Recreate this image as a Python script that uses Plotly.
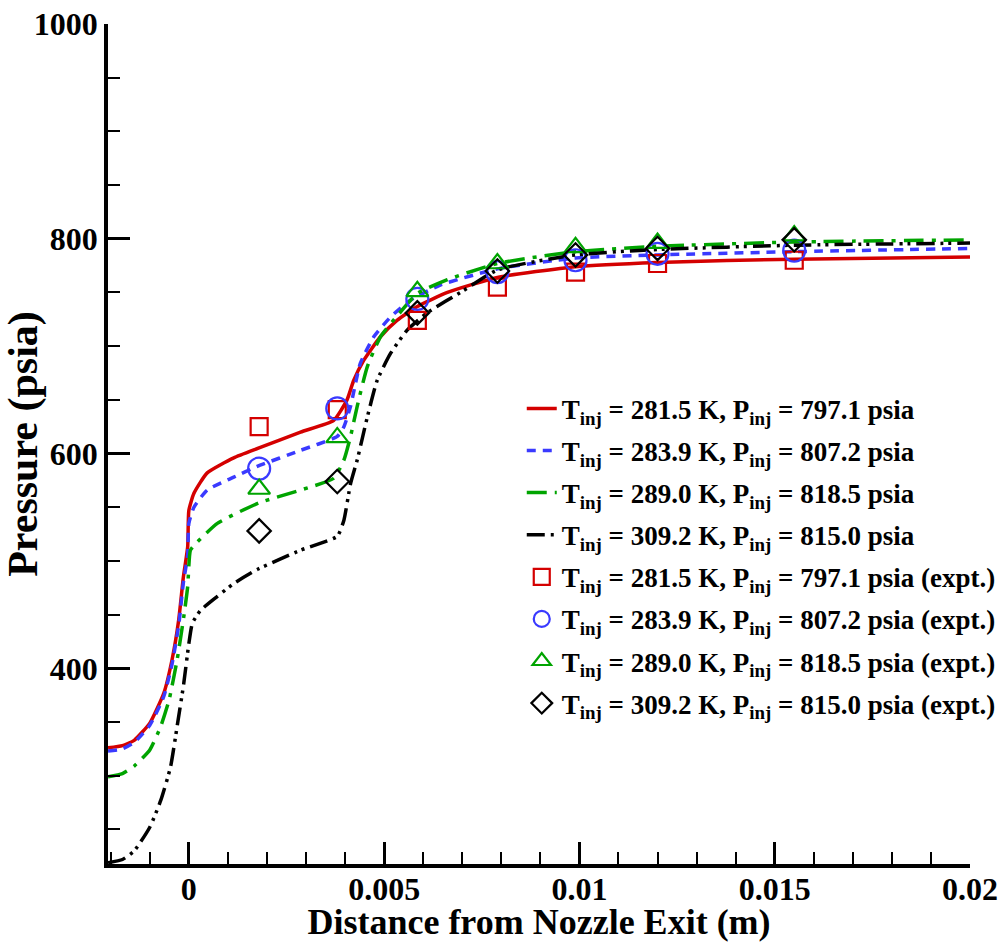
import plotly.graph_objects as go

# ---------------- data ----------------
x_281 = [-0.00207, -0.0017, -0.0014, -0.001, -0.00064, -0.00043, -0.00026, -0.00014, -0.00003, 0.0,
         0.00013, 0.00047, 0.00115, 0.00178, 0.00286, 0.00371, 0.00405, 0.00422, 0.00448,
         0.00491, 0.00533, 0.00585, 0.00662, 0.0079, 0.0099, 0.012, 0.0155, 0.02]
y_281 = [326, 328, 333, 349, 377, 408, 445, 485, 513, 547,
         563, 582, 596, 605, 620, 631, 650, 668, 687,
         709, 724, 737, 750, 764, 774, 778, 781, 783]

x_283 = [-0.00207, -0.0017, -0.0014, -0.001, -0.00064, -0.00043, -0.00026, -0.00014, -0.00003, 0.0,
         0.00013, 0.00047, 0.00115, 0.00175, 0.00286, 0.0038, 0.00397, 0.00414, 0.00439,
         0.00474, 0.00516, 0.00568, 0.00645, 0.0079, 0.0099, 0.012, 0.0155, 0.02]
y_283 = [323, 325, 331, 347, 374, 404, 440, 480, 505, 535,
         550, 566, 578, 588, 603, 616, 625, 644, 684,
         709, 727, 743, 757, 772, 782, 785, 788, 791]

x_289 = [-0.00207, -0.0017, -0.0014, -0.001, -0.00072, -0.00051, -0.0003, -0.00013, -0.00003, 0.00004,
         0.00017, 0.00073, 0.00179, 0.00286, 0.00371, 0.00397, 0.00414, 0.00431, 0.00457,
         0.00491, 0.00533, 0.00585, 0.00662, 0.0079, 0.0099, 0.012, 0.0155, 0.02]
y_289 = [299, 302, 309, 324, 346, 370, 408, 448, 476, 510,
         516, 535, 554, 566, 577, 594, 616, 644, 681,
         709, 728, 749, 762, 777, 788, 793, 797, 799]

x_309 = [-0.00207, -0.0017, -0.0014, -0.001, -0.00072, -0.00047, -0.0003, -0.00013, 0.0, 0.00009,
         0.0003, 0.00073, 0.00115, 0.00175, 0.00286, 0.0038, 0.00397, 0.00414, 0.00431,
         0.00457, 0.00482, 0.00516, 0.00559, 0.0061, 0.00704, 0.0079, 0.0099, 0.012, 0.0155, 0.02]
y_309 = [219, 222, 230, 252, 277, 308, 346, 386, 423, 442,
         454, 467, 479, 492, 510, 523, 538, 572, 594,
         634, 668, 693, 715, 731, 752, 771, 785, 790, 794, 796]

x_expt = [0.0018, 0.0038, 0.00585, 0.0079, 0.0099, 0.012, 0.0155]
y_expt_281 = [625, 641, 724, 755, 769, 777, 780]
y_expt_283 = [586, 642, 744, 769, 780, 786, 789]
y_expt_289 = [567, 615, 751, 777, 792, 796, 803]
y_expt_309 = [528, 574, 731, 770, 785, 791, 799]

labels = [
    "T<sub>inj</sub> = 281.5 K, P<sub>inj</sub> = 797.1 psia",
    "T<sub>inj</sub> = 283.9 K, P<sub>inj</sub> = 807.2 psia",
    "T<sub>inj</sub> = 289.0 K, P<sub>inj</sub> = 818.5 psia",
    "T<sub>inj</sub> = 309.2 K, P<sub>inj</sub> = 815.0 psia",
]
x_tickvals = [0, 0.005, 0.01, 0.015, 0.02]
x_ticktext = ["0", "0.005", "0.01", "0.015", "0.02"]
y_tickvals = [400, 600, 800, 1000]

# ---------------- styles ----------------
RED, BLUE, GREEN, BLACK = "#d40000", "#3a3aff", "#00a400", "#000000"
FONT = "Liberation Serif"

fig = go.Figure()

line_sets = [
    (x_281, y_281, RED, "solid"),
    (x_283, y_283, BLUE, "9px,7px"),
    (x_289, y_289, GREEN, "20px,8px,4px,8px"),
    (x_309, y_309, BLACK, "18px,6px,3px,5px,3px,6px"),
]
for i, (xs, ys, col, dash) in enumerate(line_sets):
    fig.add_trace(go.Scatter(
        x=xs, y=ys, mode="lines", name=labels[i], legendgroup=f"g{i}",
        line=dict(color=col, width=3.5, dash=dash, shape="spline", smoothing=0.5),
    ))

marker_sets = [
    (y_expt_281, RED, "square-open", 17),
    (y_expt_283, BLUE, "circle-open", 22),
    (y_expt_289, GREEN, "triangle-up-open", 19),
    (y_expt_309, BLACK, "diamond-open", 18),
]
for i, (ys, col, sym, sz) in enumerate(marker_sets):
    fig.add_trace(go.Scatter(
        x=x_expt, y=ys, mode="markers", name=labels[i] + " (expt.)", legendgroup=f"m{i}",
        marker=dict(symbol=sym, size=sz, color=col, line=dict(color=col, width=2.2)),
    ))

axis_common = dict(
    showline=True, linecolor="black", linewidth=3.5, mirror=False,
    showgrid=False, zeroline=False, automargin=False,
    ticks="inside", ticklen=22, tickwidth=3, tickcolor="black",
    tickfont=dict(family=FONT, size=32, color="black", weight="bold"),
)

fig.update_layout(
    width=1003, height=942,
    margin=dict(l=108, r=33, t=24, b=78, autoexpand=False),
    paper_bgcolor="white", plot_bgcolor="white",
    font=dict(family=FONT, color="black", weight="bold"),
    xaxis=dict(
        range=[-0.00207, 0.02], tickvals=x_tickvals, ticktext=x_ticktext,
        ticklabelstandoff=-6,
        minor=dict(dtick=0.001, tick0=0, ticks="inside", ticklen=12, tickwidth=1.5, tickcolor="black"),
        title=dict(text="Distance from Nozzle Exit (m)", font=dict(family=FONT, size=36, weight="bold"), standoff=8),
        **axis_common,
    ),
    yaxis=dict(
        range=[217.8, 1000], tickvals=y_tickvals,
        minor=dict(dtick=50, tick0=0, ticks="inside", ticklen=12, tickwidth=1.5, tickcolor="black"),
        title=dict(text="Pressure (psia)", font=dict(family=FONT, size=42, weight="bold"), standoff=4),
        **axis_common,
    ),
    legend=dict(
        x=0.48, y=0.571, xanchor="left", yanchor="top",
        bgcolor="rgba(0,0,0,0)", borderwidth=0,
        font=dict(family=FONT, size=27, color="black", weight="bold"),
        tracegroupgap=4, itemsizing="trace",
    ),
    showlegend=True,
)

fig.write_html("out.html")
